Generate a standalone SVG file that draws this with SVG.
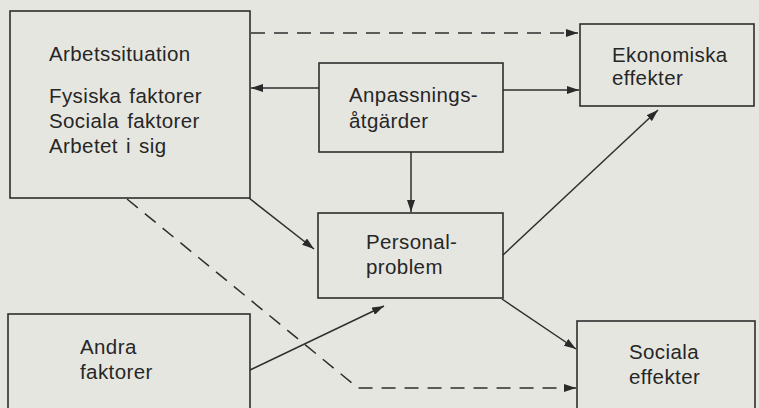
<svg xmlns="http://www.w3.org/2000/svg" width="759" height="408" viewBox="0 0 759 408">
<defs>
<marker id="ah" viewBox="0 0 12 8" refX="12" refY="4" markerWidth="12" markerHeight="8" markerUnits="userSpaceOnUse" orient="auto">
<path d="M0,0 L12,4 L0,8 Z" fill="#2a2a2a"/>
</marker>
<style>
.box{fill:none;stroke:#2e2e2e;stroke-width:1.6}
.t{font-family:"Liberation Sans",Arial,sans-serif;font-size:20.5px;fill:#262626;letter-spacing:0.4px;word-spacing:2px}
.c{fill:none;stroke:#2e2e2e;stroke-width:1.5}
.d{stroke-dasharray:14 9}
</style>
</defs>
<rect width="759" height="408" fill="#e6e6e1"/>
<g id="arbetssituation">
<rect class="box" x="10" y="11" width="240" height="187"/>
<text class="t" x="49" y="61">Arbetssituation</text>
<text class="t" x="49" y="103">Fysiska faktorer</text>
<text class="t" x="49" y="128">Sociala faktorer</text>
<text class="t" x="49" y="153">Arbetet i sig</text>
</g>
<g id="anpassningsatgarder">
<rect class="box" x="319" y="63" width="184" height="89"/>
<text class="t" x="349" y="102">Anpassnings-</text>
<text class="t" x="349" y="128">åtgärder</text>
</g>
<g id="ekonomiska">
<rect class="box" x="580" y="24" width="174" height="82"/>
<text class="t" x="612" y="62">Ekonomiska</text>
<text class="t" x="612" y="85">effekter</text>
</g>
<g id="personalproblem">
<rect class="box" x="318" y="213" width="185" height="85"/>
<text class="t" x="366" y="249">Personal-</text>
<text class="t" x="366" y="274">problem</text>
</g>
<g id="andra">
<rect class="box" x="8" y="314" width="242" height="110"/>
<text class="t" x="80" y="354">Andra</text>
<text class="t" x="80" y="379">faktorer</text>
</g>
<g id="sociala">
<rect class="box" x="577" y="321" width="178" height="100"/>
<text class="t" x="629" y="359">Sociala</text>
<text class="t" x="629" y="384">effekter</text>
</g>
<g id="connectors">
<line class="c d" x1="251" y1="33" x2="578" y2="33" marker-end="url(#ah)"/>
<line class="c" x1="319" y1="88" x2="251" y2="88" marker-end="url(#ah)"/>
<line class="c" x1="503" y1="90" x2="579" y2="90" marker-end="url(#ah)"/>
<line class="c" x1="411" y1="152" x2="411" y2="212" marker-end="url(#ah)"/>
<line class="c" x1="249" y1="198" x2="314" y2="249" marker-end="url(#ah)"/>
<line class="c" x1="250" y1="370" x2="384" y2="306" marker-end="url(#ah)"/>
<line class="c" x1="503" y1="255" x2="658" y2="110" marker-end="url(#ah)"/>
<line class="c" x1="502" y1="299" x2="576" y2="349" marker-end="url(#ah)"/>
<polyline class="c d" points="127,199 358,388 576,388" marker-end="url(#ah)"/>
</g>
</svg>
